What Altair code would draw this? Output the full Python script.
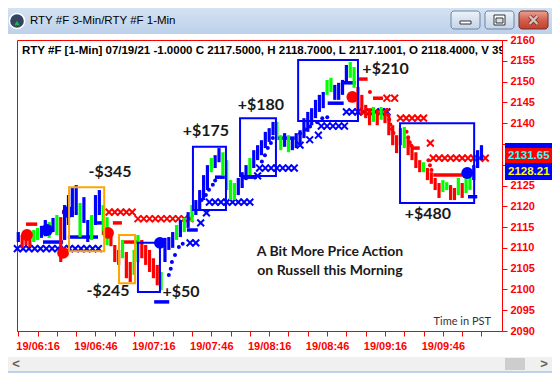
import altair as alt
import pandas as pd

# ---------------- data (minutes since midnight, prices) ----------------
bar_t = [366, 368, 370, 372, 374, 376, 378, 380, 382, 384, 386, 388, 390, 392, 394, 396, 398, 400, 402, 404,
         406, 408, 410, 412, 414, 416, 418, 420, 422, 424, 426, 428, 430, 432, 434, 436, 438, 440, 442, 444,
         446, 448, 450, 452, 454, 456, 458, 460, 462, 464, 466, 468, 470, 472, 474, 476, 478, 480, 482, 484,
         486, 488, 490, 492, 494, 496, 498, 500, 502, 504, 506, 508, 510, 512, 514, 516, 518, 520, 522, 524,
         526, 528, 530, 532, 534, 536, 538, 540, 542, 544, 546, 548, 550, 552, 554, 556, 558, 560, 562, 564,
         566, 568, 570, 572, 574, 576, 578, 580, 582, 584, 586, 588, 590, 592, 594, 596, 598, 600, 602, 604, 606]
bar_hi = [2113.8, 2113.1, 2113.6, 2112.6, 2114.3, 2114.8, 2115.3, 2116.7, 2116.2, 2117.2, 2117.9, 2117.4, 2120.3, 2122.7, 2124.4, 2125.1, 2120.8, 2122.2, 2116.7, 2117.9,
          2122.7, 2123.9, 2120.3, 2117.4, 2114.3, 2110.7, 2109.5, 2111.9, 2109.0, 2106.6, 2109.5, 2113.1, 2111.9, 2110.7, 2109.5, 2107.5, 2105.9, 2104.2, 2112.4, 2112.6,
          2113.8, 2115.5, 2116.7, 2117.2, 2118.6, 2120.3, 2121.5, 2123.9, 2127.5, 2129.9, 2131.6, 2132.3, 2134.0, 2133.0, 2131.1, 2126.3, 2125.6, 2126.8, 2128.2, 2129.9,
          2131.6, 2133.5, 2134.7, 2135.9, 2137.9, 2138.8, 2140.3, 2140.3, 2137.1, 2137.6, 2137.1, 2136.4, 2137.6, 2138.3, 2141.2, 2142.7, 2143.6, 2145.6, 2146.8, 2147.5,
          2150.4, 2150.9, 2149.2, 2149.7, 2150.4, 2154.0, 2154.7, 2153.5, 2148.7, 2146.8, 2144.4, 2143.6, 2143.9, 2143.2, 2143.9, 2143.2, 2142.0, 2139.5, 2137.1, 2138.8,
          2139.1, 2136.7, 2134.7, 2133.0, 2131.1, 2130.6, 2129.2, 2128.2, 2126.8, 2125.6, 2126.3, 2125.8, 2125.1, 2124.4, 2126.8, 2125.6, 2126.8, 2127.5, 2129.9, 2133.5, 2134.7]
bar_lo = [2111.4, 2110.0, 2110.7, 2110.2, 2111.4, 2111.9, 2112.4, 2112.8, 2112.4, 2113.8, 2113.1, 2106.6, 2111.9, 2115.5, 2117.4, 2117.9, 2112.6, 2116.0, 2111.4, 2111.9,
          2115.5, 2117.9, 2113.1, 2110.7, 2110.4, 2106.6, 2105.9, 2107.5, 2102.7, 2101.8, 2103.5, 2106.6, 2107.5, 2105.9, 2104.2, 2102.7, 2101.0, 2099.8, 2106.6, 2109.5,
          2110.0, 2111.9, 2112.6, 2113.8, 2114.8, 2116.2, 2117.9, 2119.1, 2121.5, 2123.9, 2128.2, 2129.2, 2130.6, 2127.5, 2123.9, 2121.5, 2121.5, 2122.7, 2124.4, 2126.3,
          2127.5, 2129.2, 2131.1, 2132.3, 2134.0, 2135.5, 2137.1, 2135.9, 2133.5, 2134.3, 2133.0, 2133.5, 2134.0, 2134.7, 2136.4, 2137.9, 2139.5, 2141.2, 2142.7, 2143.6,
          2146.8, 2147.5, 2145.6, 2145.6, 2146.8, 2149.9, 2150.9, 2148.5, 2143.2, 2142.0, 2141.2, 2139.5, 2140.3, 2139.5, 2140.8, 2140.0, 2137.1, 2134.7, 2132.8, 2134.7,
          2134.0, 2132.3, 2131.1, 2129.2, 2128.2, 2128.2, 2126.3, 2125.4, 2123.9, 2122.0, 2123.4, 2123.9, 2121.5, 2121.5, 2122.7, 2122.0, 2123.2, 2123.9, 2126.3, 2129.2, 2131.1]
bar_c = ["b", "r", "r", "r", "g", "g", "b", "b", "g", "b", "g", "r", "b", "b", "b", "b", "g", "b", "b", "g",
         "b", "b", "g", "g", "r", "r", "r", "g", "r", "r", "g", "g", "r", "r", "r", "r", "r", "g", "b", "b",
         "b", "g", "b", "g", "b", "g", "b", "b", "b", "b", "g", "b", "b", "g", "g", "g", "g", "b", "b", "b",
         "g", "b", "b", "b", "b", "b", "b", "g", "g", "b", "g", "b", "b", "b", "b", "b", "b", "b", "b", "b",
         "g", "g", "b", "b", "b", "b", "g", "g", "r", "r", "r", "r", "g", "r", "g", "r", "r", "r", "r", "r",
         "g", "r", "r", "r", "r", "g", "r", "r", "r", "r", "g", "g", "r", "r", "g", "r", "g", "g", "b", "b", "b"]

# trade boxes
box_t1 = [392.3, 418.2, 428.0, 456.5, 480.9, 511.0, 563.8]
box_t2 = [410.5, 426.5, 439.4, 473.6, 499.5, 542.0, 602.2]
box_p1 = [2124.6, 2113.1, 2111.2, 2134.3, 2141.2, 2155.2, 2140.0]
box_p2 = [2109.2, 2101.5, 2099.4, 2119.1, 2127.3, 2140.5, 2120.8]
box_c = ["o", "o", "b", "b", "b", "b", "b"]

# trade labels
lab_text = ["-$345", "-$245", "+$50", "+$175", "+$180", "+$210", "+$480"]
lab_t = [413.5, 412.5, 450.3, 463.2, 491.7, 556.3, 578.2]
lab_p = [2128.2, 2099.6, 2099.4, 2138.1, 2144.4, 2153.0, 2118.1]

# trailing-stop dots
sar_b_t = [444.0, 445.0, 445.6, 447.2, 449.2, 451.2, 461.0, 463.2, 464.8, 466.8, 468.0, 492.2, 493.8, 495.3,
           496.9, 497.9, 512.0, 514.6, 517.2, 520.9, 523.5, 526.1]
sar_b_p = [2103.5, 2105.0, 2106.6, 2108.3, 2110.2, 2111.0, 2121.5, 2122.7, 2124.0, 2125.2, 2126.2, 2130.8, 2132.3,
           2134.0, 2135.2, 2136.4, 2137.5, 2138.5, 2139.2, 2140.2, 2141.2, 2141.4]
sar_r_t = [548.2, 557.0, 557.6, 558.2, 558.8, 559.6, 560.4, 567.2, 568.0, 568.8, 569.6, 578.5, 579.3, 580.1]
sar_r_p = [2147.5, 2143.2, 2142.0, 2140.8, 2139.7, 2138.6, 2137.6, 2137.9, 2136.6, 2135.4, 2134.6, 2131.1,
           2129.9, 2128.7]

# 3-min horizontal levels
rd_t1 = [370.0, 388.6, 415.0, 419.7, 541.8, 549.8, 570.5, 581.0]
rd_t2 = [375.8, 391.7, 419.7, 427.5, 547.0, 555.0, 574.0, 598.6]
rd_p = [2115.7, 2118.6, 2116.0, 2111.4, 2150.6, 2146.0, 2134.0, 2127.5]
bd_t1 = [378.8, 391.7, 406.8, 436.4, 453.4, 467.9, 482.0, 500.4, 526.3, 534.6, 599.0]
bd_t2 = [389.2, 407.3, 410.0, 444.2, 459.0, 473.0, 489.7, 509.2, 534.6, 540.8, 603.8]
bd_p = [2111.4, 2112.6, 2116.0, 2097.0, 2114.3, 2127.0, 2127.0, 2136.4, 2144.8, 2149.7, 2122.3]

# X markers
bx_t = [365.5, 368.5, 371.5, 374.5, 377.5, 380.5, 383.5, 386.5, 389.5, 392.5, 395.5, 398.5, 401.5, 404.5, 407.5,
        455.0, 458.0, 460.5, 463.5,
        465.0, 468.0, 471.0, 474.0, 477.0, 480.0, 483.0, 486.0, 490.0,
        491.0, 494.0, 497.0, 500.0, 503.0, 506.0, 509.0,
        512.0, 517.0, 521.5,
        523.0, 526.0, 529.0, 532.0, 535.0,
        536.0, 539.0, 542.0, 545.0, 548.0, 551.0, 554.0, 557.0]
bx_p = [2109.8, 2109.8, 2109.8, 2109.8, 2109.8, 2109.8, 2109.8, 2109.8, 2109.8, 2109.8, 2109.8, 2109.8, 2109.8, 2109.8, 2109.8,
        2111.2, 2111.2, 2116.0, 2118.4,
        2121.0, 2121.0, 2121.0, 2121.0, 2121.0, 2121.0, 2121.0, 2121.0, 2127.3,
        2129.2, 2129.2, 2129.2, 2129.2, 2129.2, 2129.2, 2129.2,
        2134.7, 2136.0, 2137.1,
        2139.3, 2139.3, 2139.3, 2139.3, 2139.3,
        2142.7, 2142.7, 2142.7, 2142.7, 2142.7, 2142.7, 2142.7, 2142.7]
rx_t = [413.0, 416.0, 419.0, 422.0, 425.0,
        428.0, 431.0, 434.0, 437.0, 440.0, 443.0, 446.0, 449.0, 452.0, 455.0,
        557.0, 561.0,
        564.0, 567.0, 570.0, 573.0, 576.0,
        579.5,
        581.0, 584.0, 587.0, 590.0, 593.0, 596.0, 599.0, 602.0, 605.0, 608.0]
rx_p = [2118.6, 2118.6, 2118.6, 2118.6, 2118.6,
        2117.0, 2117.0, 2117.0, 2117.0, 2117.0, 2117.0, 2117.0, 2117.0, 2117.0, 2117.0,
        2146.0, 2146.0,
        2141.2, 2141.2, 2141.2, 2141.2, 2141.2,
        2135.2,
        2131.6, 2131.6, 2131.6, 2131.6, 2131.6, 2131.6, 2131.6, 2131.6, 2131.6, 2131.6]

# big signal circles
circ_t = [370.5, 380.9, 389.2, 391.8, 412.5, 439.4, 539.1, 598.6]
circ_p = [2113.1, 2114.3, 2108.8, 2118.6, 2113.6, 2111.2, 2146.3, 2128.0]
circ_c = ["r", "b", "r", "b", "r", "b", "r", "b"]

# last-price tags on the right axis
tag_hi = [2135.2, 2134.0, 2130.4]
tag_lo = [2134.0, 2130.4, 2126.3]
tag_mid = [2134.6, 2132.2, 2128.35]
tag_text = ["", "2131.65", "2128.21"]
tag_fill = ["#0000FF", "#FF0000", "#0000FF"]
tag_ink = ["#FFFF00", "#33FFFF", "#FFFF00"]

x_ticks = [366, 376, 386, 396, 406, 416, 426, 436, 446, 456, 466, 476, 486, 496, 506, 516, 526, 536, 546,
           556, 566, 576, 586, 596, 606]
y_ticks = [2090, 2095, 2100, 2105, 2110, 2115, 2120, 2125, 2130, 2135, 2140, 2145, 2150, 2155, 2160]

header = "RTY #F [1-Min] 07/19/21  -1.0000 C 2117.5000, H 2118.7000, L 2117.1001, O 2118.4000, V 39"
window_title = "RTY #F 3-Min/RTY #F 1-Min"
note_lines = ["A Bit More Price Action", "on Russell this Morning"]
note_t = [527.5, 527.5]
note_p = [2109.0, 2104.4]

# ---------------- frames ----------------
df_bars = pd.DataFrame({"t": bar_t, "hi": bar_hi, "lo": bar_lo, "c": bar_c})
df_box = pd.DataFrame({"t": box_t1, "t2": box_t2, "p": box_p1, "p2": box_p2, "c": box_c})
df_lab = pd.DataFrame({"t": lab_t, "p": lab_p, "s": lab_text})
df_sar = pd.concat([
    pd.DataFrame({"t": sar_b_t, "p": sar_b_p, "c": ["b"] * len(sar_b_t)}),
    pd.DataFrame({"t": sar_r_t, "p": sar_r_p, "c": ["r"] * len(sar_r_t)}),
])
df_dash = pd.concat([
    pd.DataFrame({"t": rd_t1, "t2": rd_t2, "p": rd_p, "c": ["r"] * len(rd_p)}),
    pd.DataFrame({"t": bd_t1, "t2": bd_t2, "p": bd_p, "c": ["b"] * len(bd_p)}),
])
df_x = pd.concat([
    pd.DataFrame({"t": bx_t, "p": bx_p, "c": ["b"] * len(bx_t)}),
    pd.DataFrame({"t": rx_t, "p": rx_p, "c": ["r"] * len(rx_t)}),
])
df_circ = pd.DataFrame({"t": circ_t, "p": circ_p, "c": circ_c})
df_tag = pd.DataFrame({"hi": tag_hi, "lo": tag_lo, "mid": tag_mid, "s": tag_text, "f": tag_fill, "k": tag_ink})
df_note = pd.DataFrame({"t": note_t, "p": note_p, "s": note_lines})
one = pd.DataFrame({"a": [0]})

XS = alt.Scale(domain=[365.33, 616.63], nice=False, zero=False)
YS = alt.Scale(domain=[2090, 2160], nice=False, zero=False)
CS = alt.Scale(domain=["b", "r", "g", "o"], range=["#0000FF", "#FF0000", "#00FF00", "#FFA500"])
col = alt.Color("c:N", scale=CS, legend=None)

label_expr = ("((datum.value - 376) % 30 == 0) ? '19/' + (floor(datum.value / 60) < 10 ? '0' : '') + "
              "floor(datum.value / 60) + ':' + ((datum.value % 60) < 10 ? '0' : '') + (datum.value % 60) : ''")
x_axis = alt.Axis(values=x_ticks, labelExpr=label_expr, title=None, grid=False, domainColor="#FF0000",
                  tickColor="#FF0000", labelColor="#FF0000", labelFont="Liberation Sans", labelFontWeight="bold",
                  labelFontSize=11, tickSize=5, labelPadding=4, labelOverlap=False, labelFlush=False)
# the 2130 / 2135 labels sit under the last-price tags, so they are left blank
y_axis = alt.Axis(orient="right", values=y_ticks, title=None, grid=False, domainColor="#FF0000",
                  labelExpr="(datum.value == 2130 || datum.value == 2135) ? '' : '' + datum.value",
                  tickColor="#FF0000", labelColor="#FF0000", labelFont="Liberation Sans", labelFontWeight="bold",
                  labelFontSize=11, tickSize=5, labelPadding=3, labelOverlap=False, labelFlush=False)


def X(f):
    return alt.X(f, type="quantitative", scale=XS, axis=x_axis)


def Y(f):
    return alt.Y(f, type="quantitative", scale=YS, axis=y_axis)


xmark = "M-1,-1L1,1M1,-1L-1,1"

xs_layer = alt.Chart(df_x).mark_point(shape=xmark, filled=False, strokeWidth=2, size=46, opacity=1).encode(
    x=X("t"), y=Y("p"), color=col)
dash_layer = alt.Chart(df_dash).mark_rule(strokeWidth=3.5).encode(
    x=X("t"), x2="t2:Q", y=Y("p"), color=col)
sar_layer = alt.Chart(df_sar).mark_circle(size=16, opacity=1).encode(
    x=X("t"), y=Y("p"), color=col)
bar_layer = alt.Chart(df_bars).mark_rule(strokeWidth=3.2).encode(
    x=X("t"), y=Y("hi"), y2="lo:Q", color=col)
circ_layer = alt.Chart(df_circ).mark_circle(size=140, opacity=1).encode(
    x=X("t"), y=Y("p"), color=col)
box_layer = alt.Chart(df_box).mark_rect(filled=False, strokeWidth=2).encode(
    x=X("t"), x2="t2:Q", y=Y("p"), y2="p2:Q", color=col)
lab_layer = alt.Chart(df_lab).mark_text(font="Lato", fontWeight="bold", fontSize=16, color="#1a1a1a").encode(
    x=X("t"), y=Y("p"), text="s:N")
note_layer = alt.Chart(df_note).mark_text(font="Lato", fontWeight="bold", fontSize=14, color="#1a1a1a").encode(
    x=X("t"), y=Y("p"), text="s:N")
pst_layer = alt.Chart(one).mark_text(font="Lato", fontSize=11, color="#333333", align="right").encode(
    x=alt.value(474), y=alt.value(282), text=alt.value("Time in PST"))
head_layer = alt.Chart(one).mark_text(font="Liberation Sans", fontWeight="bold", fontSize=11.5, color="#000000",
                                      align="left", baseline="middle", clip=True).encode(
    x=alt.value(5), y=alt.value(11), text=alt.value(header))
tag_box = alt.Chart(df_tag).mark_rect().encode(
    x=alt.value(488), x2=alt.value(540), y=Y("hi"), y2="lo:Q",
    color=alt.Color("f:N", scale=None))
tag_txt = alt.Chart(df_tag).mark_text(font="Liberation Sans", fontWeight="bold", fontSize=11.5, align="left",
                                      baseline="middle").encode(
    x=alt.value(491), y=Y("mid"), text="s:N", color=alt.Color("k:N", scale=None))


def deco(x1, x2, y1, y2, fill, **kw):
    return alt.Chart(one).mark_rect(fill=fill, **kw).encode(
        x=alt.value(x1), x2=alt.value(x2), y=alt.value(y1), y2=alt.value(y2))


title_grad = alt.LinearGradient(gradient="linear", x1=0, y1=0, x2=0, y2=1,
                                stops=[alt.GradientStop(offset=0, color="#D4E2F2"),
                                       alt.GradientStop(offset=1, color="#BCD1EA")])
btn_grad = alt.LinearGradient(gradient="linear", x1=0, y1=0, x2=0, y2=1,
                              stops=[alt.GradientStop(offset=0, color="#EEF3FA"),
                                     alt.GradientStop(offset=0.5, color="#D6E2F0"),
                                     alt.GradientStop(offset=1, color="#C4D4E8")])
close_grad = alt.LinearGradient(gradient="linear", x1=0, y1=0, x2=0, y2=1,
                                stops=[alt.GradientStop(offset=0, color="#E8A294"),
                                       alt.GradientStop(offset=0.5, color="#D3604C"),
                                       alt.GradientStop(offset=1, color="#C0402E")])

decos = [
    deco(-9, 535, -32, -6, title_grad),
    deco(-9, 535, 331, 333, "#BCD1EA"),
    deco(-9, 535, 317, 331, "#F0F0F0"),
    deco(488, 508, 318, 330, "#CDCDCD"),
    deco(434, 463, -29, -11, btn_grad, stroke="#6F829E", strokeWidth=1, cornerRadius=3),
    deco(468, 497, -29, -11, btn_grad, stroke="#6F829E", strokeWidth=1, cornerRadius=3),
    deco(502, 531, -29, -11, close_grad, stroke="#7A2A1E", strokeWidth=1, cornerRadius=3),
    deco(443, 454, -19, -16, "#FFFFFF", stroke="#333333", strokeWidth=1),
    deco(477, 488, -25, -15, "#FFFFFF", stroke="#333333", strokeWidth=1),
    deco(479, 486, -22, -17, "#D6E2F0", stroke="#333333", strokeWidth=1),
    alt.Chart(one).mark_point(shape=xmark, filled=False, stroke="#5A1A10", strokeWidth=4, size=60).encode(
        x=alt.value(516.5), y=alt.value(-20)),
    alt.Chart(one).mark_point(shape=xmark, filled=False, stroke="#FFFFFF", strokeWidth=2.2, size=60).encode(
        x=alt.value(516.5), y=alt.value(-20)),
    alt.Chart(one).mark_circle(size=230, color="#34465F", opacity=1, stroke="#FFFFFF", strokeWidth=1.5).encode(
        x=alt.value(0), y=alt.value(-19)),
    alt.Chart(one).mark_point(shape="triangle-up", filled=True, size=30, color="#22B14C", opacity=1).encode(
        x=alt.value(0), y=alt.value(-17)),
    alt.Chart(one).mark_text(font="Liberation Sans", fontSize=11.5, color="#000000", align="left",
                             baseline="middle").encode(x=alt.value(13), y=alt.value(-19), text=alt.value(window_title)),
    alt.Chart(one).mark_text(font="Liberation Sans", fontWeight="bold", fontSize=13, color="#606060",
                             baseline="middle").encode(x=alt.value(-1), y=alt.value(324), text=alt.value("<")),
    alt.Chart(one).mark_text(font="Liberation Sans", fontWeight="bold", fontSize=13, color="#606060",
                             baseline="middle").encode(x=alt.value(527), y=alt.value(324), text=alt.value(">")),
]

chart = alt.layer(
    xs_layer, dash_layer, sar_layer, bar_layer, circ_layer, box_layer, lab_layer, note_layer, pst_layer,
    head_layer, tag_box, tag_txt, *decos
).properties(
    width=485, height=291,
    padding={"left": 9, "top": 32, "right": 50, "bottom": 42},
    autosize=alt.AutoSizeParams(type="none"),
    background="white",
).configure_view(stroke="#FF0000", strokeWidth=1)

chart.save("out.html", embed_options={"renderer": "svg", "actions": False})
